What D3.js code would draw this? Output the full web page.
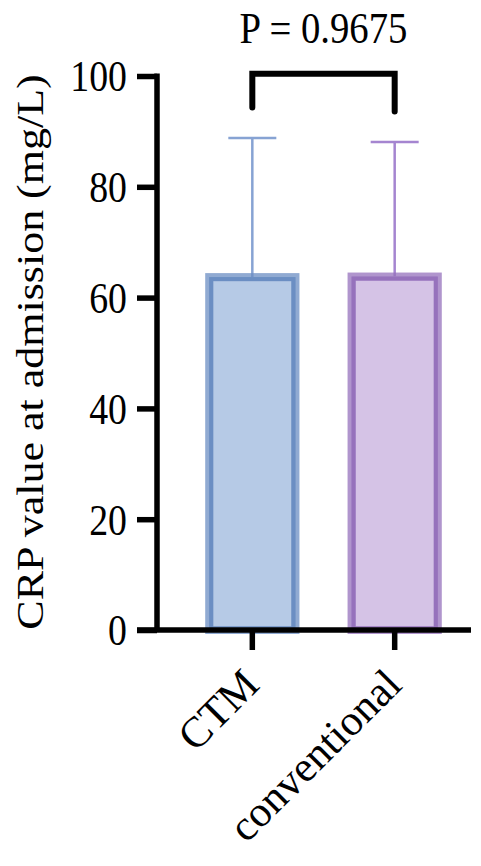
<!DOCTYPE html>
<html><head><meta charset="utf-8">
<script src="https://cdn.jsdelivr.net/npm/d3@7"></script>
<style>body{margin:0;background:#fff}svg{display:block}</style>
</head><body>
<script>
const categories = ["CTM", "conventional"];
const means = [63.7, 63.8];
const sds = [25.1, 24.3];
const yTicks = [0, 20, 40, 60, 80, 100];
const pLabel = "P = 0.9675";
const fills = ["#b6cae6", "#d5c3e6"];
const strokes = ["#6b8ec3", "#9672bc"];
const errColors = ["#87a3d3", "#a585d0"];

const W = 481, H = 866;
const svg = d3.select("body").append("svg").attr("width", W).attr("height", H);
const font = "'Liberation Serif','Times New Roman',serif";

const y = d3.scaleLinear().domain([0, 100]).range([630, 76]);
const x = d3.scaleBand().domain(categories).range([181, 466]).paddingInner(0.338).paddingOuter(0.17);

// bars
const g = svg.append("g");
categories.forEach((c, i) => {
  const bx = x(c), bw = x.bandwidth();
  const cx = bx + bw / 2;
  g.append("line").attr("x1", cx).attr("x2", cx).attr("y1", y(means[i])).attr("y2", y(means[i] + sds[i]))
    .attr("stroke", errColors[i]).attr("stroke-width", 2.5);
  g.append("line").attr("x1", cx - 24).attr("x2", cx + 24).attr("y1", y(means[i] + sds[i])).attr("y2", y(means[i] + sds[i]))
    .attr("stroke", errColors[i]).attr("stroke-width", 2.5);
  g.append("rect").attr("x", bx + 4).attr("y", y(means[i])).attr("width", bw - 8).attr("height", y(0) - y(means[i]))
    .attr("fill", fills[i]).attr("stroke", strokes[i]).attr("stroke-opacity", 0.75).attr("stroke-width", 8);
  g.append("rect").attr("x", bx + 6).attr("y", y(means[i]) + 2).attr("width", bw - 12).attr("height", y(0) - y(means[i]) - 2)
    .attr("fill", "none").attr("stroke", strokes[i]).attr("stroke-width", 4);
});

// y axis
const yAxis = d3.axisLeft(y).tickValues(yTicks).tickSize(20).tickPadding(10);
const ya = svg.append("g").attr("transform", "translate(157,0)").call(yAxis);
ya.select(".domain").attr("stroke", "#000").attr("stroke-width", 5.5).attr("d", "M0,73.5V632");
ya.selectAll(".tick line").attr("stroke", "#000").attr("stroke-width", 5.5);
ya.selectAll(".tick text").attr("font-family", font).attr("font-size", 44).attr("fill", "#000")
  .attr("x", 0).attr("dy", "0.34em").attr("transform", "translate(-30,0) scale(0.86,1)");

// x axis
const xAxis = d3.axisBottom(x).tickSize(20).tickFormat("");
const xa = svg.append("g").attr("transform", "translate(0,630)").call(xAxis);
xa.select(".domain").attr("stroke", "#000").attr("stroke-width", 5.5).attr("d", "M137,0H471");
xa.selectAll(".tick line").attr("stroke", "#000").attr("stroke-width", 5.5);
xa.selectAll(".tick").append("text")
  .attr("transform", "translate(9,57) rotate(-45)")
  .attr("text-anchor", "end").attr("font-family", font).attr("font-size", 43).attr("fill", "#000")
  .text(d => d);

// y label
svg.append("text").attr("transform", "translate(43,352) scale(0.86,1) rotate(-90)")
  .attr("text-anchor", "middle").attr("font-family", font).attr("font-size", 44).attr("fill", "#000")
  .text("CRP value at admission (mg/L)");

// bracket
const c0 = x(categories[0]) + x.bandwidth() / 2, c1 = x(categories[1]) + x.bandwidth() / 2;
svg.append("path").attr("d", `M${c0},${y(94.3)}V${y(100.4)}H${c1}V${y(93.6)}`)
  .attr("fill", "none").attr("stroke", "#000").attr("stroke-width", 6).attr("stroke-linecap", "round");
svg.append("text").attr("transform", `translate(${(c0 + c1) / 2},43) scale(0.88,1)`).attr("text-anchor", "middle")
  .attr("font-family", font).attr("font-size", 44).attr("fill", "#000").text(pLabel);
</script>
</body></html>
